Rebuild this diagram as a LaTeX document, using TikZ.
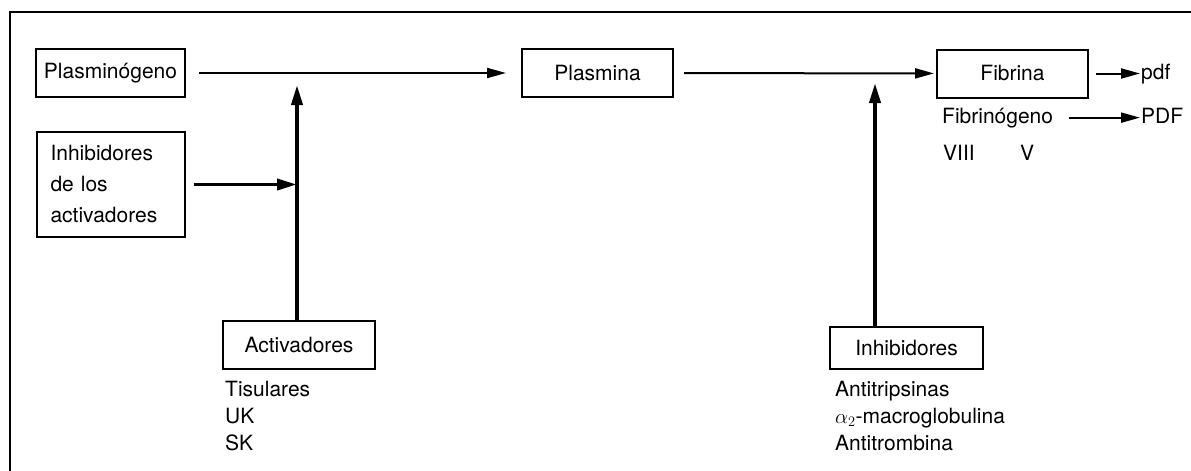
\documentclass[tikz,border=0pt]{standalone}
\usepackage{fontspec}
\setmainfont{TeX Gyre Heros}
\usetikzlibrary{arrows.meta}
\newcommand\labfont{\fontsize{21}{27}\selectfont}
\begin{document}
\begin{tikzpicture}[x=1pt,y=-1pt,
  box/.style={draw, line width=2pt, minimum height=48pt, inner sep=0pt, font=\labfont},
  lbl/.style={anchor=base west, inner sep=0pt, font=\labfont},
  arr/.style={line width=2pt, -{Triangle[length=19pt,width=10pt]}},
  thickarr/.style={line width=3.8pt, -{Triangle[length=20pt,width=11pt]}}]
\useasboundingbox (0,0) rectangle (1191,471);

% frame (top and left sides)
\draw[line width=2.2pt] (10,471) -- (10,12) -- (1191,12);

% main chain
\node[box, minimum width=149pt] (pg) at (110.5,73) {Plasminógeno};
\node[box, minimum width=151pt] (pl) at (597.5,73) {Plasmina};
\node[box, minimum width=151pt] (fb) at (1012.5,73.5) {Fibrina};

\node[box, minimum width=148pt, minimum height=105pt, align=left,
      text width=120pt, inner xsep=14pt, font=\fontsize{21}{31}\selectfont]
      (ia) at (110.5,184.5) {Inhibidores\\de los\\activadores};

\node[box, minimum width=152pt] (act) at (299,345) {Activadores};
\node[box, minimum width=153pt, minimum height=42pt] (ih) at (906.5,348) {Inhibidores};

% products of fibrinolysis
\node[lbl] (pdfs) at (1141,79) {pdf};
\node[lbl] (fg) at (942,123) {Fibrinógeno};
\node[lbl] (pdfb) at (1141,123) {PDF};
\node[lbl] (f8) at (943,160) {VIII};
\node[lbl] (f5) at (1020,160) {V};

% lists under the boxes
\node[lbl] (t1) at (225,396) {Tisulares};
\node[lbl] (t2) at (225,423) {UK};
\node[lbl] (t3) at (225,450) {SK};
\node[lbl] (a1) at (835,396) {Antitripsinas};
\node[lbl] (a2) at (835,423) {$\alpha_2$-macroglobulina};
\node[lbl] (a3) at (835,450) {Antitrombina};

% connectors
\draw[arr, shorten <=13pt, shorten >=15pt] (pg) -- (pl);
\draw[arr, shorten <=10pt, shorten >=2pt] (pl) -- (fb);
\draw[arr, shorten <=7pt, shorten >=1pt] (fb.east) -- (fb.east -| pdfs.west);
\draw[arr, shorten <=16pt, shorten >=1pt] (fg.east) -- (fg.east -| pdfb.west);

\coordinate (ta) at (297,85);
\coordinate (ja) at (297,184);
\coordinate (tb) at (875,83);
\draw[thickarr] (ta |- act.north) -- (ta);
\draw[thickarr, shorten <=8pt] (ia.east) -- (ia.east -| ja);
\draw[thickarr] (tb |- ih.north) -- (tb);
\end{tikzpicture}
\end{document}
